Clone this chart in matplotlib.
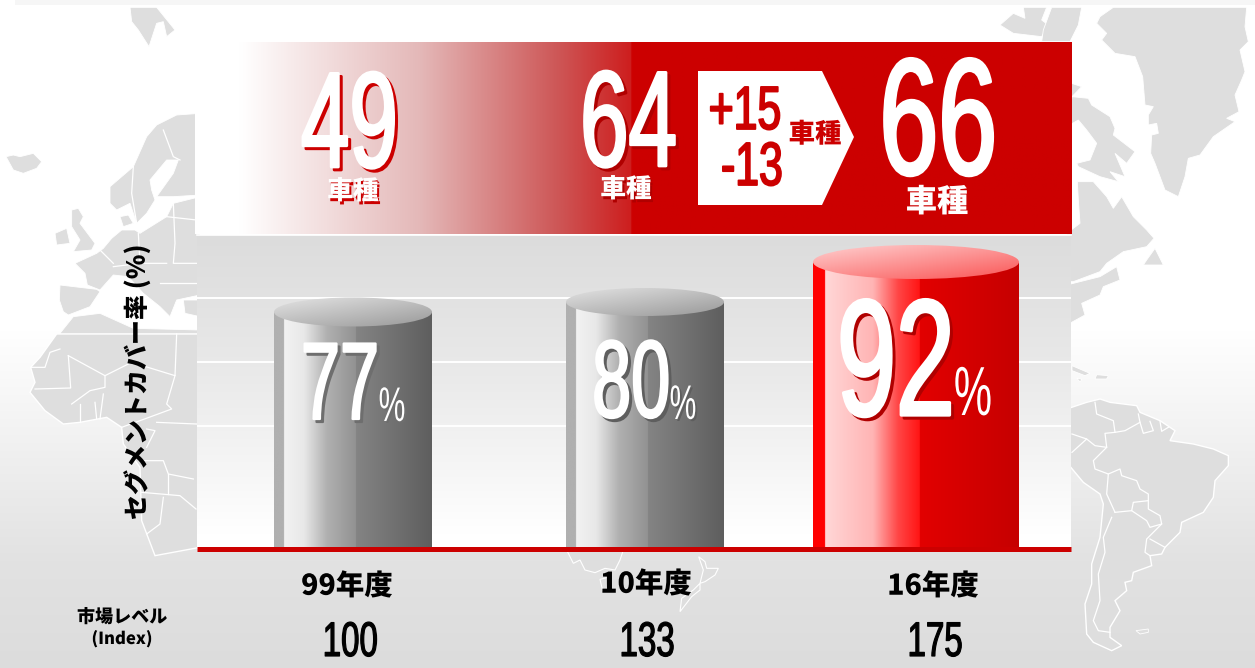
import numpy as np
import matplotlib
matplotlib.use("Agg")
import matplotlib.pyplot as plt
from matplotlib.patches import Polygon, Ellipse, Rectangle
from matplotlib.patheffects import AbstractPathEffect
from matplotlib.text import Text
from matplotlib.transforms import Affine2D, Bbox

# ---------- data ----------
years = ["99年度", "10年度", "16年度"]
coverage = [77, 80, 92]
model_counts = [49, 64, 66]
market_index = [100, 133, 175]
added_models = "+15"
dropped_models = "-13"
model_unit = "車種"
y_title = "セグメントカバー率 (%)"
market_title = "市場レベル"
market_sub = "(Index)"

# ---------- layout / style ----------
W, H = 1255, 668
CJK = ["Noto Sans CJK JP", "DejaVu Sans"]
NARROW = ["Liberation Sans Narrow", "Liberation Sans", "DejaVu Sans"]
RED = "#cc0000"
LAND = "#dedede"
bar_centres = [353, 645, 916]
bar_widths = [158, 158, 206]
bar_caps = [29, 28, 34]
PX_PER_UNIT = 3.333
YMIN, YMAX = 5.9, 100.1
grid_values = [81.2, 62.0, 42.8]


class Squeeze(AbstractPathEffect):
    """Draws a text condensed horizontally about its own centre."""
    def __init__(self, sx=1.0, offset=(0, 0), color=None, stroke=0.0):
        super().__init__((0, 0))
        self.sx, self.dxy, self.color, self.stroke = sx, offset, color, stroke

    def draw_path(self, renderer, gc, tpath, affine, rgbFace=None):
        ext = tpath.get_extents()
        cx = (ext.x0 + ext.x1) / 2
        aff = (Affine2D().translate(-cx, 0).scale(self.sx, 1).translate(cx, 0)
               + affine + Affine2D().translate(self.dxy[0], -self.dxy[1]))
        gc0 = renderer.new_gc()
        gc0.copy_properties(gc)
        face = matplotlib.colors.to_rgba(self.color if self.color is not None else rgbFace)
        gc0.set_foreground(face)
        gc0.set_linewidth(self.stroke)
        gc0.set_joinstyle("round")
        renderer.draw_path(gc0, tpath, aff, face)
        gc0.restore()


class NarrowText(Text):
    """A Text whose reported extent follows the condensed drawing."""
    def __init__(self, *args, sx=1.0, **kwargs):
        super().__init__(*args, **kwargs)
        self._sx = sx

    def get_window_extent(self, renderer=None, dpi=None):
        bb = super().get_window_extent(renderer, dpi)
        half = bb.width * self._sx / 2
        cx = (bb.x0 + bb.x1) / 2
        return Bbox.from_extents(cx - half, bb.y0, cx + half, bb.y1)


def grad_h(stops):
    xs = np.linspace(stops[0][0], stops[-1][0], 800)
    p = [s[0] for s in stops]
    arr = np.stack([np.interp(xs, p, [s[1][i] for s in stops]) for i in range(3)], -1)
    return (arr / 255.0)[None, :, :]


def grad_diag(c0, c1, n=120):
    xx, yy = np.meshgrid(np.linspace(0, 1, n), np.linspace(0, 1, n))
    t = (0.45 * xx + 0.55 * yy)[..., None]
    return ((1 - t) * np.array(c0) + t * np.array(c1)) / 255.0


fig = plt.figure(figsize=(W / 100, H / 100), dpi=100)

# ---------- background page and map ----------
bg = fig.add_axes([0, 0, 1, 1], zorder=0)
bg.set_xlim(0, W)
bg.set_ylim(H, 0)
bg.axis("off")
ys = np.arange(H)
g = np.interp(ys, [0, 330, 450, 560, 668], [255, 255, 240, 226, 220])
bg.imshow(np.stack([g, g, g], -1)[:, None, :] / 255.0, extent=(0, W, H, 0), aspect="auto", zorder=0)
bg.add_patch(Rectangle((15, 0), W, 5, fc="#f6f6f6", ec="none", zorder=0.5))


def land(points, ox, oy, lw=0.6):
    pts = [(ox + x / 3, oy + y / 3) for x, y in points]
    bg.add_patch(Polygon(pts, closed=True, fc=LAND, ec="white", lw=lw, zorder=1))


def border(points, ox, oy):
    bg.plot([ox + x / 3 for x, y in points], [oy + y / 3 for x, y in points],
            color="white", lw=0.9, zorder=1.5)


# North Atlantic / Canada
land([(300, 50), (340, 22), (740, 22), (735, 80), (745, 125), (720, 150), (735, 215), (725, 240), (705, 285),
      (717, 335), (680, 355), (705, 365), (640, 410), (600, 465), (565, 475), (555, 530), (535, 590), (495, 570),
      (465, 490), (452, 460), (455, 405), (475, 400), (470, 370), (445, 375), (445, 345), (460, 320), (435, 315),
      (428, 230), (405, 170), (345, 160), (305, 120), (320, 100), (290, 70)], 1000, 0)
land([(216, 290), (265, 295), (275, 315), (330, 350), (345, 385), (340, 405), (405, 455), (380, 490), (345, 460),
      (375, 530), (330, 515), (355, 545), (300, 530), (235, 500), (230, 490), (270, 480), (290, 430), (260, 390),
      (235, 360), (200, 380)], 1000, 0)
land([(232, 545), (280, 545), (320, 590), (340, 625), (365, 590), (400, 650), (440, 690), (462, 715), (440, 740),
      (370, 755), (320, 790), (300, 815), (220, 845), (200, 845), (200, 700), (240, 670), (235, 600)], 1000, 0)
land([(200, 855), (300, 830), (350, 800), (360, 840), (310, 860), (300, 885), (245, 910), (255, 945), (200, 975)], 1000, 0)
land([(440, 780), (465, 745), (490, 795), (430, 795)], 1000, 0)
land([(70, 22), (140, 22), (125, 60), (145, 75), (125, 110), (40, 100), (0, 75), (40, 40), (75, 55)], 1000, 0)
land([(155, 22), (245, 22), (235, 75), (210, 125), (125, 125), (130, 90)], 1000, 0)
land([(200, 245), (245, 260), (216, 290), (200, 290)], 1000, 0)
# Caribbean
land([(216, 95), (270, 118), (255, 125), (216, 110)], 1000, 334)
land([(290, 122), (325, 125), (320, 135), (285, 135)], 1000, 334)
land([(230, 132), (246, 136), (240, 144)], 1000, 334)
# South America
land([(200, 225), (260, 205), (300, 195), (330, 205), (410, 215), (420, 235), (480, 260), (525, 290), (510, 320),
      (580, 330), (640, 345), (685, 365), (685, 395), (645, 440), (640, 490), (610, 535), (545, 565), (540, 595),
      (495, 640), (485, 660), (450, 665), (455, 695), (400, 715), (395, 740), (375, 745), (380, 770), (345, 800),
      (360, 830), (330, 880), (330, 910), (365, 935), (335, 950), (280, 925), (260, 900), (255, 810), (275, 750),
      (275, 690), (300, 610), (310, 510), (300, 480), (250, 445), (200, 385)], 1000, 334, lw=1)
land([(408, 890), (445, 885), (445, 895), (420, 900)], 1000, 334)
for seg in [[(285, 205), (290, 240), (340, 260), (345, 295), (375, 290), (420, 265), (415, 240)],
            [(420, 265), (430, 298), (460, 290), (450, 262)], [(480, 262), (485, 292), (505, 280)],
            [(345, 295), (315, 298), (320, 340), (280, 380), (285, 405), (325, 420), (320, 480), (345, 535)],
            [(325, 420), (360, 405), (365, 425), (410, 440), (420, 465), (445, 480), (445, 500), (400, 505),
             (395, 530), (345, 535)],
            [(445, 500), (445, 525), (480, 545), (485, 570), (450, 580), (440, 560), (395, 530)],
            [(450, 615), (495, 640)], [(485, 570), (440, 615), (435, 655), (450, 665)],
            [(335, 550), (310, 610), (315, 655), (295, 720), (300, 800), (280, 860), (295, 890), (330, 895)],
            [(216, 300), (260, 315), (216, 355)], [(260, 315), (285, 335), (320, 340)]]:
    border(seg, 1000, 334)
# Europe
land([(390, 22), (470, 22), (525, 90), (500, 110), (490, 65), (470, 70), (447, 140), (415, 90), (395, 65)], 0, 0)
land([(18, 470), (40, 465), (60, 470), (100, 460), (125, 485), (110, 505), (70, 520), (40, 510)], 0, 0)
land([(600, 340), (530, 345), (470, 375), (440, 410), (400, 500), (330, 560), (330, 610), (350, 630), (390, 610),
      (410, 670), (440, 640), (465, 600), (455, 570), (450, 540), (500, 480), (535, 480), (520, 520), (470, 590),
      (520, 590), (600, 585)], 0, 0)
land([(215, 630), (235, 625), (250, 650), (240, 670), (285, 730), (275, 750), (220, 755), (240, 720), (215, 680)], 0, 0)
land([(165, 700), (200, 685), (210, 730), (170, 735)], 0, 0)
land([(360, 650), (385, 645), (400, 670), (370, 680)], 0, 0)
land([(600, 590), (520, 610), (500, 650), (420, 700), (405, 690), (365, 690), (335, 715), (310, 745), (290, 760),
      (225, 790), (255, 820), (262, 855), (300, 870), (340, 825), (385, 830), (430, 880), (480, 920), (510, 950),
      (530, 900), (600, 885)], 0, 0)
land([(180, 855), (290, 868), (300, 875), (270, 920), (205, 945), (190, 935), (178, 900)], 0, 0)
land([(600, 900), (550, 900), (555, 940), (600, 950)], 0, 0)
for seg in [[(400, 500), (395, 580), (410, 670)], [(490, 390), (520, 470), (540, 480)], [(415, 700), (420, 790)],
            [(520, 610), (525, 730), (520, 790), (590, 790)], [(340, 800), (420, 790), (500, 790)],
            [(300, 750), (340, 790)], [(480, 850), (590, 850)], [(500, 650), (590, 660)]]:
    border(seg, 0, 0)
# Africa
land([(180, 1000), (220, 950), (300, 940), (400, 985), (600, 990), (600, 1002), (180, 1002)], 0, 0)
land([(170, 0), (120, 70), (92, 100), (105, 145), (90, 175), (135, 230), (190, 270), (240, 265), (320, 250),
      (365, 280), (370, 330), (420, 400), (425, 560), (465, 665), (600, 640), (600, 0)], 0, 334, lw=1)
for seg in [[(180, 45), (150, 55), (135, 100), (92, 100)], [(205, 65), (212, 162), (105, 165)],
            [(205, 65), (315, 125), (395, 85), (525, 125), (530, 0)], [(315, 125), (315, 160), (270, 170), (215, 210)],
            [(525, 125), (500, 210), (515, 225), (420, 260), (365, 280)], [(240, 210), (240, 265)],
            [(285, 205), (290, 255)], [(310, 180), (300, 255)], [(430, 380), (490, 380), (505, 420), (580, 435)],
            [(425, 475), (540, 485), (588, 525)], [(505, 420), (505, 480)], [(490, 490), (480, 570), (440, 600)],
            [(470, 265), (590, 270)], [(440, 285), (465, 290), (440, 340)]]:
    border(seg, 0, 334)
# Australia, Tasmania and New Zealand showing under the base line
land([(80, 30), (100, 70), (120, 60), (135, 90), (165, 98), (195, 85), (225, 90), (240, 60), (250, 30)], 540, 540, lw=0.8)
land([(180, 118), (205, 112), (200, 150), (188, 152)], 540, 540, lw=0.8)
land([(476, 50), (495, 65), (500, 85), (535, 85), (525, 105), (495, 125), (480, 130), (490, 90)], 540, 540, lw=0.8)
land([(480, 130), (480, 150), (455, 170), (420, 215), (425, 175), (460, 150)], 540, 540, lw=0.8)

# Red banner, fading to white at the left
banner = grad_h([(195, (255, 255, 255)), (240, (255, 255, 255)), (420, (228, 184, 184)), (560, (205, 85, 85)),
                 (631, (205, 30, 30)), (632, (204, 0, 0)), (1072, (204, 0, 0))])
bg.imshow(banner, extent=(195, 1072, 234, 42), aspect="auto", zorder=2)
bg.add_patch(Polygon([(698, 71), (822, 71), (854, 137), (822, 205), (698, 205)], closed=True,
                     fc="white", ec="none", zorder=3))
bg.set_xlim(0, W)
bg.set_ylim(H, 0)

# ---------- chart axes ----------
ax_l, ax_r, ax_t, ax_b = 197, 1071, 235, 549
ax = fig.add_axes([ax_l / W, 1 - ax_b / H, (ax_r - ax_l) / W, (ax_b - ax_t) / H], zorder=1)
ax.set_xlim(ax_l, ax_r)
ax.set_ylim(YMIN, YMAX)
v = np.interp(np.linspace(0, 1, 300), [0, 0.2, 0.45, 0.75, 0.95, 1], [220, 226, 234, 246, 255, 255])
ax.imshow(np.stack([v, v, v], -1)[:, None, :] / 255.0, extent=(ax_l, ax_r, YMIN, YMAX),
          aspect="auto", zorder=0, origin="upper")
ax.set_yticks(grid_values)
ax.set_xticks([])
ax.tick_params(left=False, labelleft=False)
ax.grid(axis="y", color="white", lw=1.4)
ax.set_axisbelow(True)
for s in ("left", "right"):
    ax.spines[s].set_visible(False)
ax.spines["top"].set_color("white")
ax.spines["top"].set_linewidth(1.2)
ax.spines["bottom"].set_color(RED)
ax.spines["bottom"].set_linewidth(3.6)
ax.spines["bottom"].set_capstyle("butt")
ax.spines["bottom"].set_zorder(6)

gray_stops = [(0, (176, 176, 176)), (10, (176, 176, 176)), (10.01, (242, 242, 242)), (30, (232, 232, 232)),
              (53, (176, 176, 176)), (81.9, (146, 146, 146)), (82, (132, 132, 132)), (158, (94, 94, 94))]
red_stops = [(0, (255, 0, 0)), (12, (255, 0, 0)), (12.01, (255, 215, 215)), (60, (255, 180, 180)),
             (85, (255, 70, 70)), (106.9, (255, 20, 20)), (107, (226, 0, 0)), (206, (198, 0, 0))]
bars = ax.bar(bar_centres, coverage, width=bar_widths, color=["#888888", "#888888", RED], zorder=2)
for i, rect in enumerate(bars):
    x0, w, top = rect.get_x(), rect.get_width(), rect.get_height()
    is_red = i == len(bars) - 1
    ax.imshow(grad_h(red_stops if is_red else gray_stops), extent=(x0, x0 + w, YMIN, top),
              aspect="auto", zorder=2.1)
    hgt = bar_caps[i] / PX_PER_UNIT
    cap = Ellipse((x0 + w / 2, top), w, hgt, fc="none", ec="none", zorder=2.2)
    ax.add_patch(cap)
    img = grad_diag((255, 210, 210), (250, 85, 85)) if is_red else grad_diag((228, 228, 228), (152, 152, 152))
    im = ax.imshow(img, extent=(x0, x0 + w, top - hgt / 2, top + hgt / 2), aspect="auto", zorder=2.3)
    im.set_clip_path(cap)
ax.set_xlim(ax_l, ax_r)
ax.set_ylim(YMIN, YMAX)
ax.set_ylabel(y_title, family=CJK, fontweight="black", fontsize=18, color="black", va="center")
ax.yaxis.set_label_coords((138 - ax_l) / (ax_r - ax_l), (549 - 381) / (ax_b - ax_t))

# ---------- text overlay ----------
ov = fig.add_axes([0, 0, 1, 1], zorder=2)
ov.set_xlim(0, W)
ov.set_ylim(H, 0)
ov.axis("off")
ov.patch.set_alpha(0)


def num(x, y, s, size, color="white", shadow=None, off=(3, 3), sx=0.64, weight="normal", stroke_k=0.02):
    lw = size * stroke_k
    fx = []
    if shadow:
        fx.append(Squeeze(sx, off, shadow, lw))
    fx.append(Squeeze(sx, stroke=lw))
    t = NarrowText(x, y, s, sx=sx, family=NARROW, fontsize=size, fontweight=weight, color=color,
                   ha="center", va="baseline", path_effects=fx, transform=ov.transData)
    ov.add_artist(t)


def cjk(x, y, s, size, color="black", shadow=None, off=(2, 3)):
    fx = [Squeeze(1.0)]
    if shadow:
        fx.insert(0, Squeeze(1.0, off, shadow))
    ov.text(x, y, s, family=CJK, fontsize=size, fontweight="black", color=color,
            ha="center", va="center", path_effects=fx)


# model counts
num(350, 167, str(model_counts[0]), 98, shadow=RED)
cjk(353, 191, model_unit, 18.5, "white", shadow=RED)
num(628, 166, str(model_counts[1]), 98, shadow="#b00000")
cjk(626, 189, model_unit, 18.5, "white", shadow="#b00000")
num(938, 174, str(model_counts[2]), 119)
cjk(937, 202, model_unit, 22.5, "white")
num(745, 129, added_models, 44, color=RED, sx=0.7, stroke_k=0.03)
num(752, 185, dropped_models, 44, color=RED, sx=0.7, stroke_k=0.03)
cjk(815, 134, model_unit, 19, RED)

# coverage labels
pct_x = [392, 683, 973]
pct_y = [421, 419, 415]
pct_size = [35, 35, 50]
num_x = [340, 631, 896]
num_y = [419, 417, 415]
num_size = [79, 79, 119]
shadows = ["#6e6e6e", "#5e5e5e", "#b00000"]
for i, c in enumerate(coverage):
    num(num_x[i], num_y[i], str(c), num_size[i], shadow=shadows[i], off=(3, 3))
    num(pct_x[i], pct_y[i], "%", pct_size[i], sx=0.62, stroke_k=0.0,
        shadow=None if i == 2 else shadows[i], off=(2, 2))

# category labels and market index
year_x = [347, 646, 933]
year_y = [586, 584, 586]
index_x = [350, 647, 935]
for i in range(3):
    cjk(year_x[i], year_y[i], years[i], 20.5)
    num(index_x[i], 656, str(market_index[i]), 35, color="black", sx=0.68, stroke_k=0.025)
cjk(122, 617, market_title, 13)
cjk(122, 639, market_sub, 12)

fig.savefig("out.png", dpi=100)
